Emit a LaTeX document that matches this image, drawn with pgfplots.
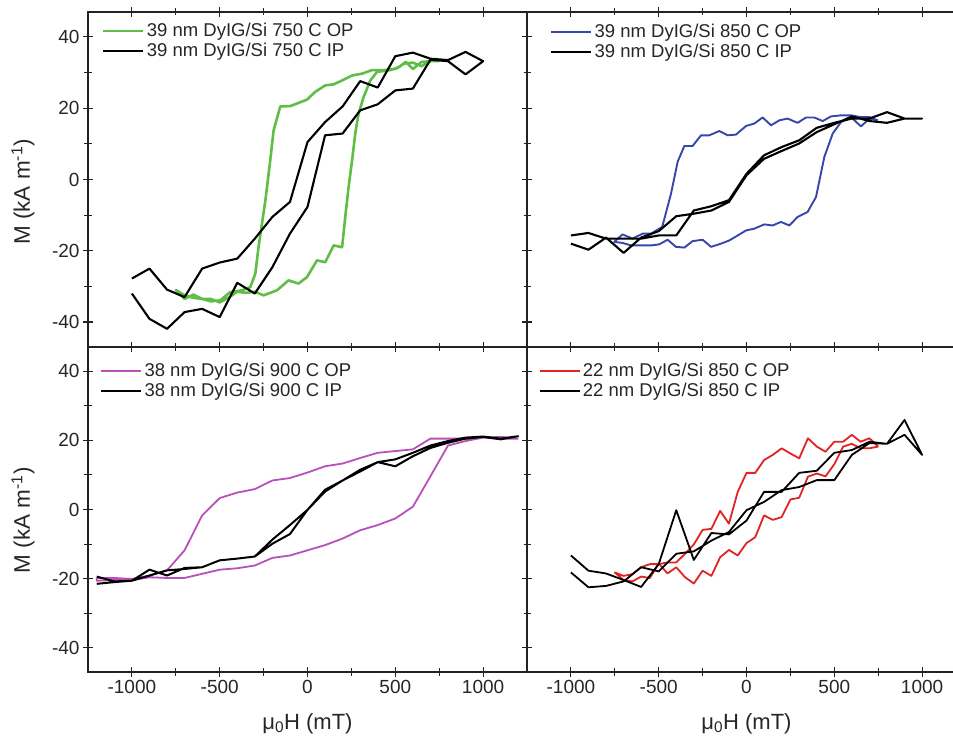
\documentclass[border=0pt]{standalone}
\usepackage{fontspec}
\setmainfont{Liberation Sans}
\usepackage{pgfplots}
\pgfplotsset{compat=1.18}
\definecolor{cgreen}{RGB}{95,190,70}
\definecolor{cblue}{RGB}{55,70,170}
\definecolor{cmag}{RGB}{185,80,185}
\definecolor{cred}{RGB}{225,35,35}
\definecolor{axc}{RGB}{35,35,35}
\pgfplotsset{
  panel/.style={
    scale only axis, width=439bp,
    xmin=-1250, xmax=1250, ymin=-47, ymax=47,
    xtick={-1000,-500,0,500,1000}, ytick={-40,-20,0,20,40},
    minor x tick num=1, minor y tick num=1,
    tick align=center, major tick length=10bp, minor tick length=7bp,
    every tick/.style={line width=1.1bp, axc},
    axis line style={line width=1.4bp, axc},
    ticklabel style={font=\fontsize{19bp}{22bp}\selectfont, text=black!85},
    /pgf/number format/assume math mode=true,
    /pgf/number format/1000 sep={},
    legend cell align=left,
    legend style={draw=none, fill=none, anchor=north west, row sep=0bp, inner sep=0bp,
      font=\fontsize{18.5bp}{22bp}\selectfont, nodes={inner sep=2.5bp, text=black!85}},
    legend image code/.code={\draw[##1] (0bp,0bp) -- (40bp,0bp);},
    every axis y label/.style={rotate=90, anchor=center, font=\fontsize{22.5bp}{26bp}\selectfont, text=black!85},
    every axis x label/.style={at={(axis description cs:0.5,0)}, anchor=base, yshift=-57bp, font=\fontsize{22bp}{26bp}\selectfont, text=black!85},
    every axis plot/.append style={line join=round},
  },
}
\begin{document}
\begin{tikzpicture}
\useasboundingbox (0bp,0bp) rectangle (953bp,737bp);
% ---------------- top left
\begin{axis}[panel, at={(88bp,390bp)}, anchor=south west, height=335bp,
  xticklabels={}, ylabel={M (kA m\textsuperscript{-1})},
  every axis y label/.append style={at={(axis description cs:-0.148,0.463)}},
  legend style={at={(axis description cs:0.031,0.974)}}]
\addplot[cgreen, line width=2.6bp] coordinates {
(750,33.2) (700,33.2) (650,31.8) (600,32.8) (550,32.5) (500,31.0) (434,30.7) (368,30.7) (311,29.7) (254,29.2) (197,27.8) (149,26.7) (101,26.4) (44,24.6) (-3,22.4) (-98,20.6) (-155,20.5) (-193,13.8) (-212,5.4) (-240,-5.9) (-279,-19) (-297,-26.4) (-326,-30.2) (-373,-31.1) (-440,-31.6) (-497,-33.9) (-550,-34.2) (-600,-33.5) (-650,-32.3) (-700,-33.5) (-750,-31)
(-700,-32.5) (-650,-33.2) (-600,-33.5) (-550,-33.5) (-500,-34.5) (-450,-33.2) (-400,-31.5) (-350,-31.8) (-300,-31.5) (-250,-32.5) (-174,-31.1) (-108,-28.3) (-51,-29.2) (-3,-27.4) (54,-22.7) (101,-23.2) (149,-18.5) (197,-19.0) (215,-10.5) (234,-2.1) (254,5.4) (272,12.9) (291,18.5) (320,23.2) (358,27.8) (396,30.2) (472,30.7) (520,31.5) (560,33.0) (600,31.0) (650,33.0) (700,33.2) (750,33.2)};
\addlegendentry{39 nm DyIG/Si 750 C OP}
\addplot[black, line width=2.1bp] coordinates {
(-1000,-32.0) (-900,-39.1) (-800,-41.9) (-700,-37.2) (-600,-36.3) (-500,-38.6) (-400,-29.0) (-300,-32.0) (-200,-24.6) (-100,-15.2) (0,-7.7) (100,12.4) (200,12.9) (300,19.4) (400,21.1) (500,25.0) (600,25.5) (700,33.6) (800,33.2) (900,29.5) (1000,33.2)
(900,35.8) (800,33.5) (700,33.9) (600,35.6) (500,34.6) (400,25.8) (300,27.6) (200,20.5) (100,16.1) (0,10.5) (-100,-6.3) (-200,-10.5) (-300,-16.6) (-400,-22.2) (-500,-23.3) (-600,-25.0) (-700,-33.0) (-800,-30.9) (-900,-25.0) (-1000,-27.8)};
\addlegendentry{39 nm DyIG/Si 750 C IP}
\end{axis}
% ---------------- top right
\begin{axis}[panel, at={(527bp,390bp)}, anchor=south west, height=335bp,
  xticklabels={}, yticklabels={},
  legend style={at={(axis description cs:0.052,0.971)}}]
\addplot[cblue, line width=1.9bp] coordinates {
(747,16.6) (700,17.5) (652,17.5) (595,18.0) (538,18.0) (481,17.7) (434,16.4) (386,17.4) (339,17.4) (291,15.9) (234,17.1) (187,16.6) (140,15.2) (92,17.4) (44,15.7) (-3,15.0) (-60,12.6) (-107,12.4) (-155,13.6) (-212,12.4) (-259,12.4) (-307,9.4) (-354,9.4) (-392,5.0) (-430,-4.0) (-480,-13.3) (-544,-15.2) (-592,-15.2) (-649,-16.6) (-706,-15.4) (-753,-17.5)
(-706,-17.8) (-658,-18.5) (-601,-18.5) (-544,-18.5) (-497,-18.2) (-449,-16.9) (-402,-18.9) (-354,-19.1) (-307,-17.3) (-250,-16.9) (-202,-18.9) (-145,-18.0) (-98,-17.1) (-50,-15.7) (-3,-14.3) (44,-13.8) (101,-12.6) (149,-12.9) (196,-11.9) (244,-12.9) (291,-10.5) (348,-9.1) (396,-4.9) (443,6.3) (491,12.9) (538,16.1) (595,17.5) (652,14.9) (700,17.1) (747,16.6)};
\addlegendentry{39 nm DyIG/Si 850 C OP}
\addplot[black, line width=2.1bp] coordinates {
(-1000,-15.7) (-900,-15.0) (-800,-16.6) (-700,-16.6) (-600,-16.6) (-500,-15.7) (-400,-15.7) (-300,-8.7) (-200,-7.5) (-100,-5.8) (0,1.6) (100,6.8) (200,9.1) (300,11.0) (400,14.5) (500,15.9) (600,17.1) (700,17.1) (800,18.9) (900,17.1) (1000,17.1)
(900,17.1) (800,15.9) (700,16.4) (600,17.7) (500,15.5) (400,13.3) (300,10.1) (200,8.0) (100,5.8) (0,1.2) (-100,-6.3) (-200,-8.7) (-300,-9.6) (-400,-10.3) (-500,-14.5) (-600,-16.3) (-700,-20.6) (-800,-16.3) (-900,-19.7) (-1000,-18.0)};
\addlegendentry{39 nm DyIG/Si 850 C IP}
\end{axis}
% ---------------- bottom left
\begin{axis}[panel, at={(88bp,65bp)}, anchor=south west, height=325bp,
  ylabel={M (kA m\textsuperscript{-1})}, xlabel={μ\textsubscript{0}H (mT)},
  every axis y label/.append style={at={(axis description cs:-0.148,0.467)}},
  legend style={at={(axis description cs:0.027,0.958)}}]
\addplot[cmag, line width=1.8bp] coordinates {
(1200,20.5) (1100,21.0) (1000,20.8) (900,20.5) (800,20.5) (700,20.5) (600,17.4) (500,16.9) (400,16.4) (300,14.9) (200,13.3) (100,12.5) (0,10.7) (-100,9.1) (-200,8.4) (-300,5.9) (-400,4.9) (-500,3.3) (-600,-1.7) (-700,-11.8) (-800,-17.6) (-900,-19.1) (-1000,-20.1) (-1100,-19.8) (-1200,-19.8)
(-1200,-20.6) (-1100,-20.4) (-1000,-20.4) (-900,-19.6) (-800,-19.8) (-700,-19.8) (-600,-18.6) (-500,-17.4) (-400,-17.0) (-300,-16.2) (-200,-14.0) (-100,-13.3) (0,-11.8) (100,-10.3) (200,-8.4) (300,-6.0) (400,-4.5) (500,-2.6) (600,0.8) (700,9.6) (800,18.5) (900,19.8) (1000,20.8) (1100,20.5) (1200,20.5)};
\addlegendentry{38 nm DyIG/Si 900 C OP}
\addplot[black, line width=2.0bp] coordinates {
(-1200,-19.4) (-1100,-20.8) (-1000,-20.6) (-900,-17.4) (-800,-19.1) (-700,-16.9) (-600,-16.7) (-500,-14.7) (-400,-14.2) (-300,-13.6) (-200,-8.7) (-100,-4.5) (0,-0.1) (100,5.7) (200,8.4) (300,11.0) (400,13.7) (500,12.5) (600,15.4) (700,17.8) (800,19.3) (900,20.5) (1000,21.0) (1100,20.3) (1200,21.2)
(1100,20.5) (1000,21.1) (900,20.8) (800,19.8) (700,18.5) (600,16.4) (500,14.5) (400,13.7) (300,11.5) (200,8.4) (100,5.2) (0,-0.1) (-100,-7.1) (-200,-9.9) (-300,-13.6) (-400,-14.2) (-500,-14.7) (-600,-16.7) (-700,-17.2) (-800,-17.6) (-900,-19.1) (-1000,-20.6) (-1100,-21.0) (-1200,-21.5)};
\addlegendentry{38 nm DyIG/Si 900 C IP}
\end{axis}
% ---------------- bottom right
\begin{axis}[panel, at={(527bp,65bp)}, anchor=south west, height=325bp,
  yticklabels={}, xlabel={μ\textsubscript{0}H (mT)},
  legend style={at={(axis description cs:0.026,0.958)}}]
\addplot[cred, line width=1.8bp] coordinates {
(750,18.2) (700,20.6) (650,19.6) (600,21.6) (550,19.6) (500,19.6) (450,16.7) (400,18.2) (350,20.6) (300,14.8) (250,16.2) (200,17.7) (150,15.8) (100,14.3) (50,10.6) (0,10.6) (-50,5.1) (-100,-4.1) (-150,-0.4) (-200,-5.6) (-250,-5.9) (-300,-10.1) (-350,-12.8) (-400,-15.3) (-450,-15.3) (-500,-15.8) (-550,-15.8) (-600,-16.7) (-650,-18.7) (-700,-19.2) (-750,-18.2)
(-700,-20.4) (-650,-20.8) (-600,-19.4) (-550,-19.8) (-500,-15.6) (-450,-18.5) (-400,-16.7) (-350,-19.6) (-300,-21.4) (-250,-17.7) (-200,-19.2) (-150,-13.8) (-100,-11.7) (-50,-13.3) (0,-9.7) (50,-8.0) (100,-1.7) (150,-3.0) (200,-2.2) (250,2.9) (300,3.4) (350,9.5) (400,10.4) (450,9.6) (500,13.1) (550,18.2) (600,19.0) (650,17.7) (700,17.7) (750,18.2)};
\addlegendentry{22 nm DyIG/Si 850 C OP}
\addplot[black, line width=1.8bp] coordinates {
(-1000,-13.3) (-900,-17.7) (-800,-18.5) (-700,-20.4) (-600,-22.4) (-500,-15.8) (-400,-0.2) (-300,-14.6) (-200,-6.8) (-100,-7.2) (0,-3.2) (100,5.1) (200,5.1) (300,10.6) (400,11.2) (500,16.4) (600,17.2) (700,19.6) (800,19.0) (900,25.9) (1000,15.8)
(900,21.6) (800,19.0) (700,19.2) (600,15.8) (500,8.5) (400,8.5) (300,6.5) (200,5.6) (100,2.2) (0,-0.2) (-100,-6.5) (-200,-9.0) (-300,-12.1) (-400,-12.8) (-500,-17.9) (-600,-16.7) (-700,-20.8) (-800,-22.1) (-900,-22.5) (-1000,-18.2)};
\addlegendentry{22 nm DyIG/Si 850 C IP}
\end{axis}
\end{tikzpicture}
\end{document}
